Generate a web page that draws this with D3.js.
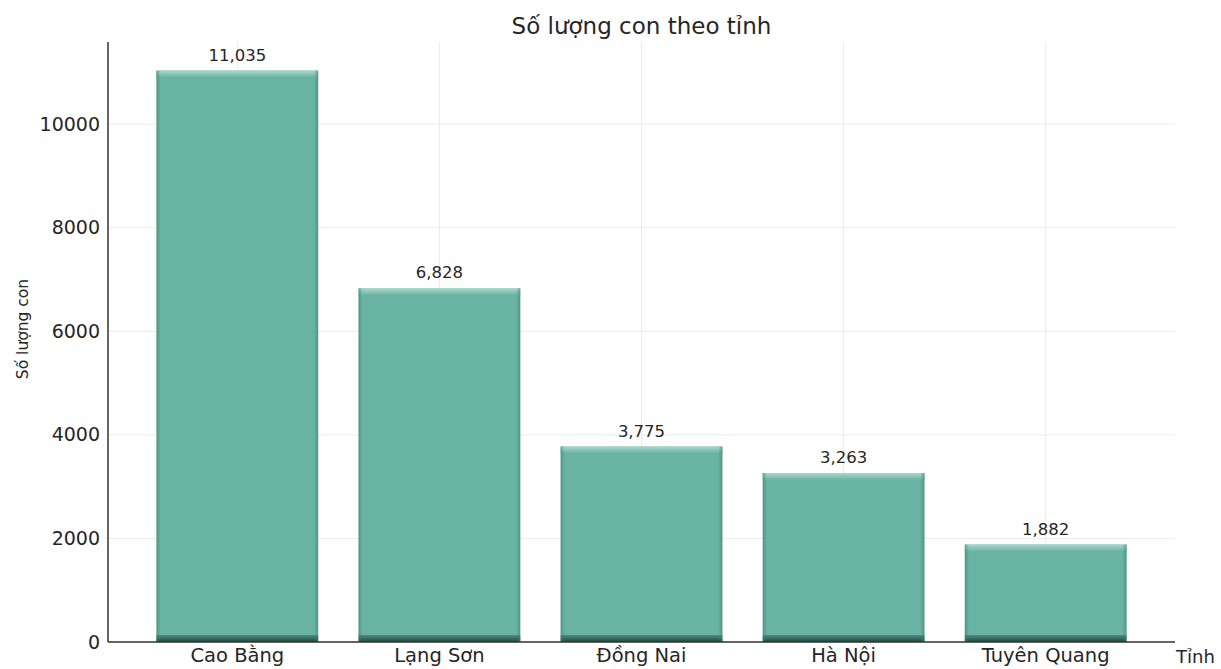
<!DOCTYPE html>
<html>
<head>
<meta charset="utf-8">
<script src="https://cdn.jsdelivr.net/npm/d3@7"></script>
<style>
  body { margin: 0; background: #fff; }
  text { font-family: "DejaVu Sans", sans-serif; fill: #262626; }
</style>
</head>
<body>
<svg id="chart" width="1221" height="669"></svg>
<script>
const provinces = ["Cao Bằng", "Lạng Sơn", "Đồng Nai", "Hà Nội", "Tuyên Quang"];
const counts = [11035, 6828, 3775, 3263, 1882];
const yTicks = [0, 2000, 4000, 6000, 8000, 10000];
const chartTitle = "Số lượng con theo tỉnh";
const yLabel = "Số lượng con";
const xLabel = "Tỉnh";

(function () {
const svg = d3.select("#chart");
const pLeft = 108, pRight = 1175, pTop = 42, pBottom = 642;

const x = d3.scaleBand().domain(provinces).range([pLeft, pRight]).paddingInner(0.2).paddingOuter(0.24);
const y = d3.scaleLinear().domain([0, d3.max(counts) * 1.05]).range([pBottom, pTop]);

const defs = svg.append("defs");
const vg = defs.append("linearGradient").attr("id", "vshade").attr("x1", 0).attr("x2", 0).attr("y1", 0).attr("y2", 1);
vg.append("stop").attr("offset", "0").attr("stop-color", "#a9d8cc");
vg.append("stop").attr("offset", "1").attr("stop-color", "#69b3a2");
const bg = defs.append("linearGradient").attr("id", "bshade").attr("x1", 0).attr("x2", 0).attr("y1", 0).attr("y2", 1);
bg.append("stop").attr("offset", "0").attr("stop-color", "#4d8f80");
bg.append("stop").attr("offset", "1").attr("stop-color", "#23463e");
const hg = defs.append("linearGradient").attr("id", "hshade").attr("x1", 0).attr("x2", 1).attr("y1", 0).attr("y2", 0);
hg.append("stop").attr("offset", "0").attr("stop-color", "#3f7f70").attr("stop-opacity", 0.6);
hg.append("stop").attr("offset", "0.025").attr("stop-color", "#3f7f70").attr("stop-opacity", 0);
hg.append("stop").attr("offset", "0.975").attr("stop-color", "#3f7f70").attr("stop-opacity", 0);
hg.append("stop").attr("offset", "1").attr("stop-color", "#3f7f70").attr("stop-opacity", 0.6);

// grid
const grid = svg.append("g");
grid.selectAll("line.h").data(yTicks).join("line")
  .attr("x1", pLeft).attr("x2", pRight).attr("y1", d => y(d)).attr("y2", d => y(d))
  .attr("stroke", "#ebebeb").attr("stroke-width", 1);
grid.selectAll("line.v").data(provinces).join("line")
  .attr("x1", d => x(d) + x.bandwidth() / 2).attr("x2", d => x(d) + x.bandwidth() / 2)
  .attr("y1", pTop).attr("y2", pBottom)
  .attr("stroke", "#ebebeb").attr("stroke-width", 1);

// bars
const bars = svg.append("g").selectAll("g").data(provinces).join("g");
bars.append("rect")
  .attr("x", d => x(d)).attr("width", x.bandwidth())
  .attr("y", (d, i) => y(counts[i])).attr("height", (d, i) => y(0) - y(counts[i]))
  .attr("fill", "#69b3a2");
bars.append("rect")
  .attr("x", d => x(d)).attr("width", x.bandwidth())
  .attr("y", (d, i) => y(counts[i])).attr("height", 7)
  .attr("fill", "url(#vshade)");
bars.append("rect")
  .attr("x", d => x(d)).attr("width", x.bandwidth())
  .attr("y", y(0) - 7).attr("height", 7)
  .attr("fill", "url(#bshade)");
bars.append("rect")
  .attr("x", d => x(d)).attr("width", x.bandwidth())
  .attr("y", (d, i) => y(counts[i])).attr("height", (d, i) => y(0) - y(counts[i]))
  .attr("fill", "url(#hshade)");

// value labels
const fmt = d3.format(",");
svg.append("g").selectAll("text").data(provinces).join("text")
  .attr("x", d => x(d) + x.bandwidth() / 2)
  .attr("y", (d, i) => y(counts[i]) - 10)
  .attr("text-anchor", "middle").attr("font-size", 16.5)
  .text((d, i) => fmt(counts[i]));

// axes
const yAxis = svg.append("g").attr("transform", `translate(${pLeft},0)`)
  .call(d3.axisLeft(y).tickValues(yTicks).tickSize(0).tickPadding(8).tickFormat(d3.format("d")));
yAxis.select(".domain").remove();
yAxis.selectAll("text").attr("font-size", 19).attr("fill", "#262626").style("font-family", "DejaVu Sans");

const xAxis = svg.append("g").attr("transform", `translate(0,${pBottom})`)
  .call(d3.axisBottom(x).tickSize(0).tickPadding(10));
xAxis.select(".domain").remove();
xAxis.selectAll("text").attr("font-size", 19.5).attr("fill", "#262626")
  .attr("y", 20).attr("dy", 0).style("font-family", "DejaVu Sans");

svg.append("line").attr("x1", pLeft).attr("x2", pLeft).attr("y1", pTop).attr("y2", pBottom)
  .attr("stroke", "#333").attr("stroke-width", 1.5);
svg.append("line").attr("x1", pLeft).attr("x2", pRight).attr("y1", pBottom).attr("y2", pBottom)
  .attr("stroke", "#333").attr("stroke-width", 1.5);

// titles
svg.append("text").attr("x", (pLeft + pRight) / 2).attr("y", 34).attr("text-anchor", "middle")
  .attr("font-size", 23).text(chartTitle);
svg.append("text").attr("transform", `translate(28,329) rotate(-90)`)
  .attr("text-anchor", "middle").attr("font-size", 15.5).text(yLabel);
svg.append("text").attr("x", 1176).attr("y", 663).attr("font-size", 18).text(xLabel);
})();
</script>
</body>
</html>
